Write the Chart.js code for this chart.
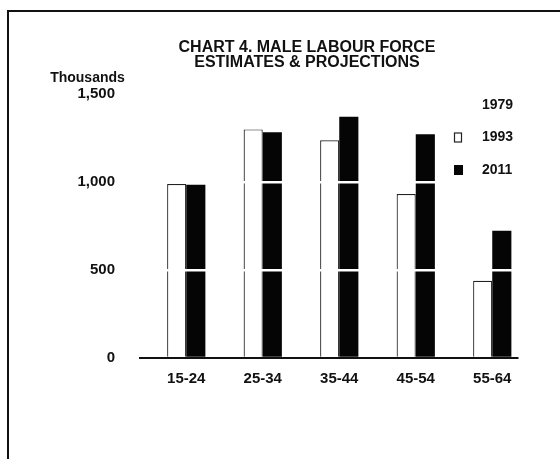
<!DOCTYPE html>
<html>
<head>
<meta charset="utf-8">
<script src="https://cdn.jsdelivr.net/npm/chart.js@4.4.1/dist/chart.umd.min.js"></script>
<style>
  html, body { margin: 0; padding: 0; background: #fff; }
  #wrap { position: relative; width: 560px; height: 459px; overflow: hidden; }
  #frame {
    position: absolute; left: 7px; top: 10px; width: 600px; height: 500px;
    border-top: 2px solid #111; border-left: 2px solid #111;
  }
  canvas { position: absolute; left: 0; top: 0; }
</style>
</head>
<body>
<div id="wrap">
  <div id="frame"></div>
  <canvas id="chart" width="560" height="459"></canvas>
</div>
<script>
// Chart data
const categories = ['15-24', '25-34', '35-44', '45-54', '55-64'];
const seriesLabels = ['1979', '1993', '2011'];
const values1979 = [null, null, null, null, null]; // not visible in the scan
const values1993 = [988, 1299, 1237, 932, 439];
const values2011 = [984, 1282, 1371, 1271, 723];
const yTicks = [0, 500, 1000, 1500];
const titleLines = ['CHART 4. MALE LABOUR FORCE', 'ESTIMATES & PROJECTIONS'];

const FONT = '"Liberation Sans", Arial, Helvetica, sans-serif';
const INK = '#111';

// Draws the title, the axis line, the "Thousands" caption and the legend
const extrasPlugin = {
  id: 'extras',
  afterDraw(chart) {
    const { ctx, chartArea } = chart;
    ctx.save();

    // title, centred a bit right of the canvas middle as in the print
    ctx.fillStyle = INK;
    ctx.font = 'bold 16px ' + FONT;
    ctx.textAlign = 'center';
    ctx.textBaseline = 'middle';
    titleLines.forEach((line, i) => ctx.fillText(line, 307, 48 + i * 15));

    // x axis line (a little wider left, shorter right, as in the print)
    ctx.strokeStyle = INK;
    ctx.lineWidth = 2;
    ctx.beginPath();
    ctx.moveTo(chartArea.left - 9, chartArea.bottom);
    ctx.lineTo(chartArea.right - 12, chartArea.bottom);
    ctx.stroke();

    // unit caption
    ctx.font = 'bold 14px ' + FONT;
    ctx.fillText('Thousands', 87.5, 78);

    // legend
    ctx.textAlign = 'left';
    chart.data.datasets.forEach((ds, i) => {
      const y = 105 + i * 32.5;
      if (ds.legendBox) {
        ctx.fillStyle = ds.backgroundColor;
        ctx.fillRect(454, y - 5, 9, 10);
        if (ds.borderWidth) {
          ctx.strokeStyle = ds.borderColor;
          ctx.lineWidth = 1.2;
          ctx.strokeRect(454.5, y - 4.5, 7, 9);
        }
      }
      ctx.fillStyle = INK;
      ctx.fillText(ds.label, 482, y);
    });
    ctx.restore();
  }
};

new Chart(document.getElementById('chart'), {
  type: 'bar',
  data: {
    labels: categories,
    datasets: [
      {
        label: seriesLabels[0],
        data: values1979,
        backgroundColor: 'rgba(0,0,0,0)',
        borderWidth: 0,
        legendBox: false
      },
      {
        label: seriesLabels[1],
        data: values1993,
        backgroundColor: '#fff',
        borderColor: '#222',
        borderWidth: 1.2,
        legendBox: true
      },
      {
        label: seriesLabels[2],
        data: values2011,
        backgroundColor: '#050505',
        borderColor: '#050505',
        borderWidth: 0,
        legendBox: true
      }
    ]
  },
  options: {
    responsive: false,
    animation: false,
    skipNull: true,
    categoryPercentage: 0.5,
    barPercentage: 1.0,
    layout: {
      padding: { left: 0, right: 29.5, top: 94, bottom: 0 }
    },
    scales: {
      x: {
        grid: { display: false, drawTicks: false },
        border: { display: false },
        ticks: {
          color: INK,
          padding: 12,
          font: { family: FONT, size: 15, weight: 'bold' }
        },
        afterFit(scale) { scale.height = 101; }
      },
      y: {
        min: 0,
        max: 1500,
        afterBuildTicks(scale) {
          scale.ticks = yTicks.map(v => ({ value: v }));
        },
        grid: {
          z: 1,
          drawTicks: false,
          lineWidth: 2.5,
          color: (c) => (c.tick && c.tick.value > 0 && c.tick.value < 1500) ? '#fff' : 'rgba(0,0,0,0)'
        },
        border: { display: false },
        ticks: {
          color: INK,
          padding: 33,
          font: { family: FONT, size: 15, weight: 'bold' },
          callback: (v) => v.toLocaleString('en-US')
        },
        afterFit(scale) { scale.width = 148; }
      }
    },
    plugins: {
      legend: { display: false },
      tooltip: { enabled: false },
      title: { display: false }
    }
  },
  plugins: [extrasPlugin]
});
</script>
</body>
</html>
